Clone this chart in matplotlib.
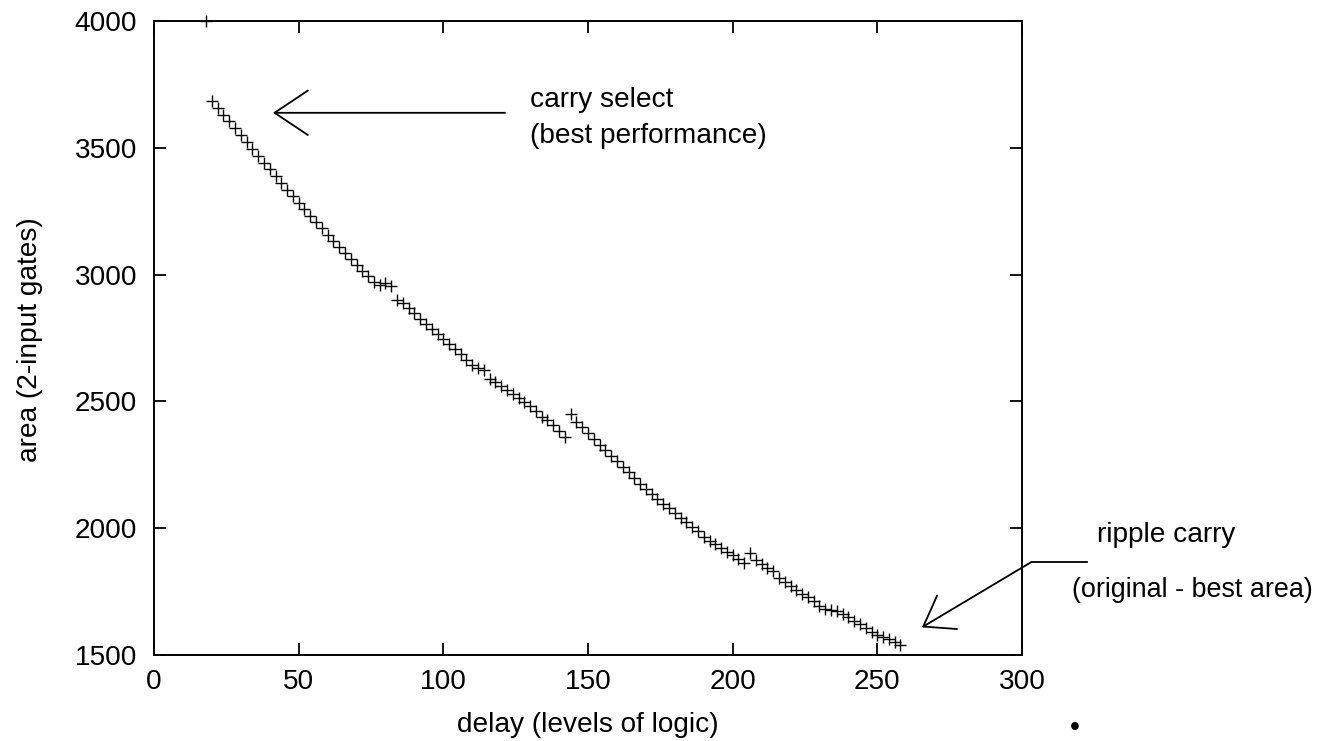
import matplotlib
matplotlib.use("Agg")
import matplotlib.pyplot as plt

plt.rcParams['font.family'] = ['Liberation Sans', 'DejaVu Sans']

# data: delay (levels of logic) vs area (2-input gates)
outlier_delay = [18]
outlier_area = [4000]

delay_a = [20, 22, 24, 26, 28, 30, 32, 34, 36, 38, 40, 42, 44, 46, 48, 50,
           52, 54, 56, 58, 60, 62, 64, 66, 68, 70, 72, 74, 76, 78, 80, 82]
area_a = [3685, 3658, 3631, 3604, 3577, 3550, 3523, 3496, 3469, 3442, 3415,
          3388, 3361, 3334, 3308, 3282, 3257, 3232, 3207, 3182, 3157, 3132,
          3108, 3084, 3061, 3038, 3015, 2993, 2972, 2960, 2967, 2955]

delay_b = [84, 86, 88, 90, 92, 94, 96, 98, 100, 102, 104, 106, 108, 110, 112,
           114, 116, 118, 120, 122, 124, 126, 128, 130, 132, 134, 136, 138,
           140, 142]
area_b = [2900, 2888, 2868, 2847, 2826, 2805, 2785, 2765, 2745, 2725, 2705,
          2685, 2665, 2645, 2630, 2622, 2587, 2575, 2560, 2545, 2529, 2513,
          2497, 2481, 2462, 2440, 2425, 2408, 2385, 2360]

delay_c = [144, 146, 148, 150, 152, 154, 156, 158, 160, 162, 164, 166, 168,
           170, 172, 174, 176, 178, 180, 182, 184, 186, 188, 190, 192, 194,
           196, 198, 200, 202, 204]
area_c = [2449, 2420, 2398, 2375, 2353, 2330, 2308, 2286, 2264, 2242, 2220,
          2198, 2176, 2155, 2134, 2114, 2096, 2078, 2060, 2042, 2024, 2006,
          1988, 1967, 1951, 1936, 1921, 1906, 1893, 1878, 1862]

delay_d = [206, 208, 210, 212, 214, 216, 218, 220, 222, 224, 226, 228, 230,
           232, 234, 236, 238, 240, 242, 244, 246, 248, 250, 252, 254, 256, 258]
area_d = [1904, 1875, 1860, 1845, 1830, 1802, 1788, 1774, 1758, 1742, 1727,
          1712, 1692, 1682, 1676, 1672, 1662, 1650, 1636, 1622, 1608, 1590,
          1580, 1570, 1562, 1550, 1540]

x_ticks = [0, 50, 100, 150, 200, 250, 300]
y_ticks = [1500, 2000, 2500, 3000, 3500, 4000]

FS = 20.2

fig = plt.figure(figsize=(13.2, 7.41), dpi=100)
ax = fig.add_axes([154 / 1320, 1 - 655 / 741, 868 / 1320, 634 / 741])

mk = dict(marker='+', linestyle='none', color='black', markersize=8.5,
          markeredgewidth=1.0, clip_on=False)
for xs, ys in [(outlier_delay, outlier_area), (delay_a, area_a),
               (delay_b, area_b), (delay_c, area_c), (delay_d, area_d)]:
    ax.plot(xs, ys, **mk)

ax.set_xlim(0, 300)
ax.set_ylim(1500, 4000)
ax.set_xticks(x_ticks)
ax.set_yticks(y_ticks)
ax.tick_params(direction='in', length=8.5, width=1.3, labelsize=FS,
               top=True, right=True)
ax.tick_params(axis='x', pad=10)
ax.tick_params(axis='y', pad=12)
for s in ax.spines.values():
    s.set_linewidth(1.4)

ax.set_xlabel('delay (levels of logic)', fontsize=FS)
ax.set_ylabel('area (2-input gates)', fontsize=FS)
ax.xaxis.set_label_coords(0.5, -0.09)
ax.yaxis.set_label_coords(-0.128, 0.497)

# carry select annotation
ax.annotate('', xy=(41.1, 3638), xytext=(121.3, 3638),
            arrowprops=dict(arrowstyle='->,head_length=24,head_width=16',
                            mutation_scale=1, lw=1.3, color='black',
                            shrinkA=0, shrinkB=0))
ax.text(130, 3689, 'carry select', fontsize=FS, ha='left', va='center')
ax.text(130, 3547, '(best performance)', fontsize=FS, ha='left', va='center')

# ripple carry annotation
ax.plot([322.4, 303.3], [1867, 1867], color='black', lw=1.3, clip_on=False)
ax.annotate('', xy=(265.4, 1609), xytext=(303.3, 1867),
            arrowprops=dict(arrowstyle='->,head_length=20,head_width=14',
                            mutation_scale=1, lw=1.3, color='black',
                            shrinkA=0, shrinkB=0),
            annotation_clip=False)
ax.text(326, 1972, 'ripple carry', fontsize=FS, ha='left', va='center',
        clip_on=False)
ax.text(317.4, 1756, '(original - best area)', fontsize=19.4, ha='left',
        va='center', clip_on=False)

fig.text(1075 / 1320, 1 - 728 / 741, '\u2022', fontsize=FS, ha='center',
         va='center')

fig.savefig('out.png', dpi=100)
